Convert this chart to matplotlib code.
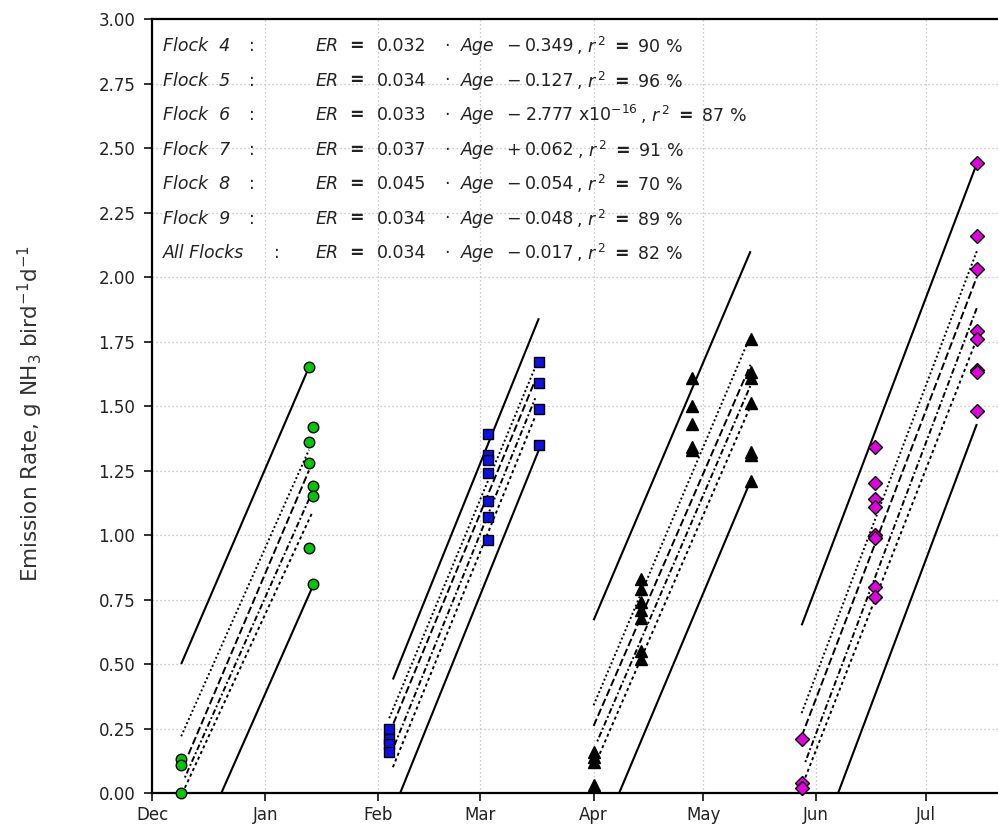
import matplotlib
matplotlib.use("Agg")
import matplotlib.pyplot as plt
import numpy as np
import datetime as dt

D = lambda s: dt.datetime.strptime(s, "%Y-%m-%d")

# ---------------- data ----------------
# Flock group 1 (green circles)
g1_dates = ["2006-12-09"] * 3 + ["2007-01-13"] * 4 + ["2007-01-14"] * 4
g1_vals = [0.13, 0.11, 0.00, 1.65, 1.36, 1.28, 0.95, 1.42, 1.19, 1.15, 0.81]
# Flock group 2 (blue squares)
g2_dates = ["2007-02-04"] * 4 + ["2007-03-03"] * 7 + ["2007-03-17"] * 4
g2_vals = [0.25, 0.21, 0.19, 0.16, 1.39, 1.31, 1.29, 1.24, 1.13, 1.07, 0.98,
           1.67, 1.59, 1.49, 1.35]
# Flock group 3 (black triangles)
g3_dates = (["2007-04-01"] * 4 + ["2007-04-14"] * 7 + ["2007-04-28"] * 5
            + ["2007-05-14"] * 7)
g3_vals = [0.16, 0.14, 0.12, 0.03, 0.83, 0.79, 0.74, 0.71, 0.68, 0.55, 0.52,
           1.61, 1.50, 1.43, 1.34, 1.33, 1.76, 1.63, 1.61, 1.51, 1.32, 1.31, 1.21]
# Flock group 4 (magenta diamonds)
g4_dates = ["2007-05-28"] * 3 + ["2007-06-17"] * 8 + ["2007-07-15"] * 8
g4_vals = [0.21, 0.04, 0.02, 1.34, 1.20, 1.14, 1.11, 1.00, 0.99, 0.80, 0.76,
           2.44, 2.16, 2.03, 1.79, 1.76, 1.64, 1.63, 1.48]

# regression lines per group: (start date, end date, start value, end value)
g1_fit_start = ["2006-12-09", "2006-12-11", "2006-12-10", "2006-12-10"]
g1_fit_end = ["2007-01-13", "2007-01-13", "2007-01-14", "2007-01-14"]
g1_fit_v0 = [0.22, 0.15, 0.06, 0.02]
g1_fit_v1 = [1.33, 1.25, 1.17, 1.09]
g1_bound_start = ["2006-12-09", "2006-12-20"]
g1_bound_end = ["2007-01-13", "2007-01-14"]
g1_bound_v0 = [0.50, 0.00]
g1_bound_v1 = [1.65, 0.80]

g2_fit_start = ["2007-02-04", "2007-02-04", "2007-02-05", "2007-02-05"]
g2_fit_end = ["2007-03-16", "2007-03-16", "2007-03-16", "2007-03-16"]
g2_fit_v0 = [0.29, 0.23, 0.17, 0.10]
g2_fit_v1 = [1.65, 1.60, 1.53, 1.46]
g2_bound_start = ["2007-02-05", "2007-02-07"]
g2_bound_end = ["2007-03-17", "2007-03-17"]
g2_bound_v0 = [0.44, 0.00]
g2_bound_v1 = [1.84, 1.33]

g3_fit_start = ["2007-04-01", "2007-04-01", "2007-04-02", "2007-04-02"]
g3_fit_end = ["2007-05-13", "2007-05-14", "2007-05-14", "2007-05-14"]
g3_fit_v0 = [0.34, 0.26, 0.20, 0.13]
g3_fit_v1 = [1.74, 1.66, 1.58, 1.50]
g3_bound_start = ["2007-04-01", "2007-04-08"]
g3_bound_end = ["2007-05-14", "2007-05-14"]
g3_bound_v0 = [0.67, 0.00]
g3_bound_v1 = [2.10, 1.21]

g4_fit_start = ["2007-05-28", "2007-05-28", "2007-05-29", "2007-05-29"]
g4_fit_end = ["2007-07-15", "2007-07-15", "2007-07-15", "2007-07-15"]
g4_fit_v0 = [0.31, 0.22, 0.12, 0.06]
g4_fit_v1 = [2.10, 2.00, 1.88, 1.76]
g4_bound_start = ["2007-05-28", "2007-06-07"]
g4_bound_end = ["2007-07-15", "2007-07-15"]
g4_bound_v0 = [0.65, 0.00]
g4_bound_v1 = [2.44, 1.43]

flock_labels = ["Flock  4", "Flock  5", "Flock  6", "Flock  7", "Flock  8",
                "Flock  9", "All Flocks"]
coefs = ["0.032", "0.034", "0.033", "0.037", "0.045", "0.034", "0.034"]
signs = ["\u2212", "\u2212", "\u2212", "+", "\u2212", "\u2212", "\u2212"]
intercepts = ["0.349", "0.127", r"2.777 x10$^{-16}$", "0.062", "0.054", "0.048", "0.017"]
r2 = ["90", "96", "87", "91", "70", "89", "82"]

month_labels = ["Dec", "Jan", "Feb", "Mar", "Apr", "May", "Jun", "Jul"]
y_ticks = [0.00, 0.25, 0.50, 0.75, 1.00, 1.25, 1.50, 1.75, 2.00, 2.25, 2.50, 2.75, 3.00]

# ---------------- figure ----------------
W, H = 998, 838
fig = plt.figure(figsize=(W / 100, H / 100), dpi=100)
ax = fig.add_axes([152 / W, 1 - 793 / H, (W - 152) / W, (793 - 19) / H])

groups = [
    (g1_dates, g1_vals, "o", "#00c800", 7.6,
     (g1_fit_start, g1_fit_end, g1_fit_v0, g1_fit_v1),
     (g1_bound_start, g1_bound_end, g1_bound_v0, g1_bound_v1)),
    (g2_dates, g2_vals, "s", "#1010e0", 7.4,
     (g2_fit_start, g2_fit_end, g2_fit_v0, g2_fit_v1),
     (g2_bound_start, g2_bound_end, g2_bound_v0, g2_bound_v1)),
    (g3_dates, g3_vals, "^", "#000000", 8.8,
     (g3_fit_start, g3_fit_end, g3_fit_v0, g3_fit_v1),
     (g3_bound_start, g3_bound_end, g3_bound_v0, g3_bound_v1)),
    (g4_dates, g4_vals, "D", "#e000e0", 7.2,
     (g4_fit_start, g4_fit_end, g4_fit_v0, g4_fit_v1),
     (g4_bound_start, g4_bound_end, g4_bound_v0, g4_bound_v1)),
]

fit_styles = [(0, (1, 1.3)), (0, (4, 1.6)), (0, (1, 1.3, 3, 1.3)), (0, (1.6, 1.6))]

for dates, vals, mk, col, ms, fit, bound in groups:
    s0, s1, v0, v1 = bound
    for a, b, c, d in zip(s0, s1, v0, v1):
        ax.plot([D(a), D(b)], [c, d], color="black", lw=1.5, solid_capstyle="butt", zorder=2)
    s0, s1, v0, v1 = fit
    for (a, b, c, d), ls in zip(zip(s0, s1, v0, v1), fit_styles):
        ax.plot([D(a), D(b)], [c, d], color="black", lw=1.4, linestyle=ls, zorder=2)
    ax.plot([D(x) for x in dates], vals, linestyle="none", marker=mk, ms=ms,
            mfc=col, mec="black", mew=1.0, zorder=3, clip_on=False)

ax.set_ylim(0, 3.0)
ax.set_xlim(D("2006-12-01"), D("2006-12-01") + dt.timedelta(days=231.8))
ax.set_yticks(y_ticks)
ax.set_yticklabels([f"{v:.2f}" for v in y_ticks])
month_dates = [D("2006-12-01"), D("2007-01-01"), D("2007-02-01"), D("2007-03-01"),
               D("2007-04-01"), D("2007-05-01"), D("2007-06-01"), D("2007-07-01")]
ax.set_xticks(month_dates)
ax.set_xticklabels(month_labels)

ax.grid(True, color="#bbbbbb", linestyle=(0, (1, 2.2)), linewidth=0.9, zorder=0)
ax.set_axisbelow(True)
for sp in ["left", "bottom", "top"]:
    ax.spines[sp].set_linewidth(1.6)
ax.spines["right"].set_visible(False)
ax.tick_params(axis="both", direction="out", length=6, width=1.3,
               labelsize=12, colors="#222222", pad=6)
ax.tick_params(axis="x", pad=3)

ax.set_ylabel(r"Emission Rate, g NH$_3$ bird$^{-1}$d$^{-1}$", fontsize=15.5,
              color="#333333")
ax.yaxis.set_label_coords(-0.126, 0.49)

# equations block
row0, dy = 46, 34.5
def fx(px):
    return px / W
def fy(py):
    return 1 - py / H

fig.canvas.draw()
renderer = fig.canvas.get_renderer()
fs = 12.5
for i in range(len(flock_labels)):
    y = fy(row0 + i * dy)
    kw = dict(fontsize=fs, va="center", color="#222222", transform=fig.transFigure)
    is_all = flock_labels[i].startswith("All")
    fig.text(fx(163), y, flock_labels[i], style="italic", **kw)
    fig.text(fx(274 if is_all else 249), y, ":", **kw)
    fig.text(fx(316), y, "ER", style="italic", **kw)
    fig.text(fx(349), y, "=", fontweight="bold", **kw)
    fig.text(fx(377), y, coefs[i], **kw)
    fig.text(fx(444), y, "\u00b7", **kw)
    fig.text(fx(461), y, "Age", style="italic", **kw)
    fig.text(fx(506), y, signs[i], **kw)
    t = fig.text(fx(525), y, intercepts[i], **kw)
    bb = t.get_window_extent(renderer)
    x_end = bb.x1
    fig.text((x_end + 2) / W, y, r", $\mathit{r}^{\,2}$ $\mathbf{=}$ " + r2[i] + " %", **kw)

fig.savefig("out.png", dpi=100)
